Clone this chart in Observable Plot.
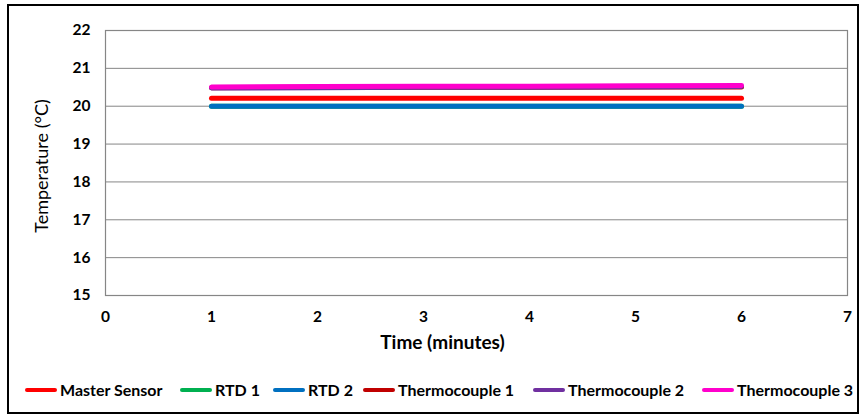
<!DOCTYPE html>
<html>
<head>
<meta charset="utf-8">
<script src="https://cdn.jsdelivr.net/npm/d3@7"></script>
<script src="https://cdn.jsdelivr.net/npm/@observablehq/plot@0.6"></script>
<style>
  body { margin: 0; background: #fff; }
  #wrap { position: relative; width: 860px; height: 416px; font-family: Lato, "Open Sans", sans-serif; }
  #frame { position: absolute; left: 7px; top: 4px; width: 848px; height: 406px; border: 2px solid #000; pointer-events: none; }
  #chart { position: absolute; left: 0; top: 0; }
  #legend { position: absolute; left: 0; top: 380px; width: 860px; height: 22px; }
  .item { position: absolute; top: 0; display: flex; align-items: center; font-weight: bold; font-size: 16px; color: #000; white-space: nowrap; }
  .sw { width: 32px; height: 4px; border-radius: 2px; margin-right: 3px; }
</style>
</head>
<body>
<div id="wrap">
  <div id="chart"></div>
  <div id="legend"></div>
  <div id="frame"></div>
</div>
<script>
const minutes = [1, 2, 3, 4, 5, 6];
const seriesNames = ["Master Sensor", "RTD 1", "RTD 2", "Thermocouple 1", "Thermocouple 2", "Thermocouple 3"];
const seriesColors = ["#FF0000", "#00B050", "#0070C0", "#C00000", "#7030A0", "#FF00CC"];
const masterSensor = [20.21, 20.21, 20.21, 20.21, 20.21, 20.21];
const rtd1 = [20.0, 20.0, 20.0, 20.0, 20.0, 20.0];
const rtd2 = [20.0, 20.0, 20.0, 20.0, 20.0, 20.0];
const thermocouple1 = [20.49, 20.5, 20.5, 20.5, 20.51, 20.51];
const thermocouple2 = [20.48, 20.49, 20.5, 20.5, 20.51, 20.52];
const thermocouple3 = [20.51, 20.52, 20.53, 20.53, 20.54, 20.55];
const xTicks = [0, 1, 2, 3, 4, 5, 6, 7];
const yTicks = [15, 16, 17, 18, 19, 20, 21, 22];
const xLabel = "Time (minutes)";
const yLabel = "Temperature (°C)";

const seriesValues = [masterSensor, rtd1, rtd2, thermocouple1, thermocouple2, thermocouple3];
const data = seriesNames.flatMap((name, i) =>
  minutes.map((m, j) => ({ series: name, minute: m, temp: seriesValues[i][j] }))
);

const chart = Plot.plot({
  width: 860,
  height: 365,
  marginLeft: 105,
  marginRight: 13,
  marginTop: 30,
  marginBottom: 70,
  style: { fontFamily: "Lato, 'Open Sans', sans-serif", fontSize: "15.5px", color: "#000", background: "transparent" },
  x: { domain: [0, 7] },
  y: { domain: [15, 22] },
  color: { domain: seriesNames, range: seriesColors },
  marks: [
    Plot.gridY(yTicks, { stroke: "#868686", strokeOpacity: 1 }),
    Plot.frame({ stroke: "#868686", strokeWidth: 1.2 }),
    Plot.axisY(yTicks, { tickSize: 0, tickPadding: 15, fontWeight: "bold", label: null }),
    Plot.axisX(xTicks, { tickSize: 0, tickPadding: 15, fontWeight: "bold", label: null }),
    Plot.text([xLabel], { frameAnchor: "bottom", dx: -34, dy: 53, fontSize: 19, fontWeight: "bold", fill: "#000", textAnchor: "middle" }),
    Plot.text([yLabel], { frameAnchor: "left", rotate: -90, dx: -63, dy: 3, fontSize: 18, fill: "#000", textAnchor: "middle" }),
    Plot.line(data, { x: "minute", y: "temp", z: "series", stroke: "series", strokeWidth: 5, strokeLinecap: "round", strokeLinejoin: "round" })
  ]
});
document.getElementById("chart").appendChild(chart);

const legendX = [25, 180, 273, 363, 533, 702];
const legend = document.getElementById("legend");
seriesNames.forEach((name, i) => {
  const it = document.createElement("div");
  it.className = "item";
  it.style.left = legendX[i] + "px";
  const sw = document.createElement("div");
  sw.className = "sw";
  sw.style.background = seriesColors[i];
  const t = document.createElement("span");
  t.textContent = name;
  it.appendChild(sw);
  it.appendChild(t);
  legend.appendChild(it);
});
</script>
</body>
</html>
